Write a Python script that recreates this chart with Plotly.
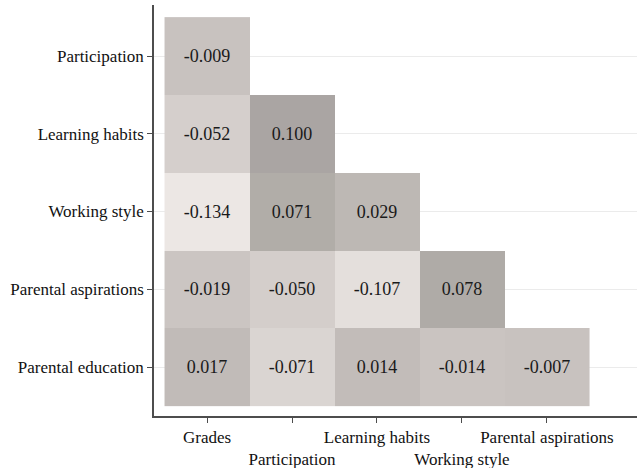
import plotly.graph_objects as go

# Variables shown on each axis
row_labels = ["Participation", "Learning habits", "Working style",
              "Parental aspirations", "Parental education"]
col_labels = ["Grades", "Participation", "Learning habits",
              "Working style", "Parental aspirations"]

# Lower-triangular correlation values (None = not shown)
corr_participation = [-0.009, None, None, None, None]
corr_learning = [-0.052, 0.100, None, None, None]
corr_working = [-0.134, 0.071, 0.029, None, None]
corr_aspirations = [-0.019, -0.050, -0.107, 0.078, None]
corr_education = [0.017, -0.071, 0.014, -0.014, -0.007]

z = [corr_participation, corr_learning, corr_working,
     corr_aspirations, corr_education]
text = [["" if v is None else f"{v:.3f}" for v in row] for row in z]

font_family = "Liberation Serif, Times New Roman, serif"

fig = go.Figure(
    go.Heatmap(
        z=z,
        x=list(range(len(col_labels))),
        y=list(range(len(row_labels))),
        text=text,
        texttemplate="%{text}",
        textfont=dict(family=font_family, size=18, color="#1a1a1a"),
        colorscale=[[0.0, "#ece7e4"], [0.57, "#c6c0bd"],
                    [0.87, "#b1ada8"], [1.0, "#aaa5a3"]],
        zmin=-0.134,
        zmax=0.100,
        showscale=False,
        hoverongaps=False,
    )
)

# Stagger alternate column labels onto a second line
col_ticktext = [lab if i % 2 == 0 else "<br>" + lab
                for i, lab in enumerate(col_labels)]

axis_common = dict(
    zeroline=False,
    showline=True,
    linecolor="#4d4d4d",
    linewidth=1.5,
    ticks="outside",
    ticklen=5,
    tickcolor="#4d4d4d",
    tickfont=dict(family=font_family, size=17, color="#111111"),
    automargin=False,
)

fig.update_layout(
    width=637,
    height=468,
    margin=dict(l=154, r=0, t=5, b=52),
    paper_bgcolor="white",
    plot_bgcolor="white",
    font=dict(family=font_family, size=17, color="#111111"),
    xaxis=dict(
        range=[-0.624, 5.06],
        tickvals=list(range(len(col_labels))),
        ticktext=col_ticktext,
        tickangle=0,
        showgrid=False,
        **axis_common,
    ),
    yaxis=dict(
        range=[4.63, -0.656],
        tickvals=list(range(len(row_labels))),
        ticktext=row_labels,
        showgrid=True,
        gridcolor="#ebebeb",
        gridwidth=1,
        **axis_common,
    ),
)

fig.write_html("out.html")
